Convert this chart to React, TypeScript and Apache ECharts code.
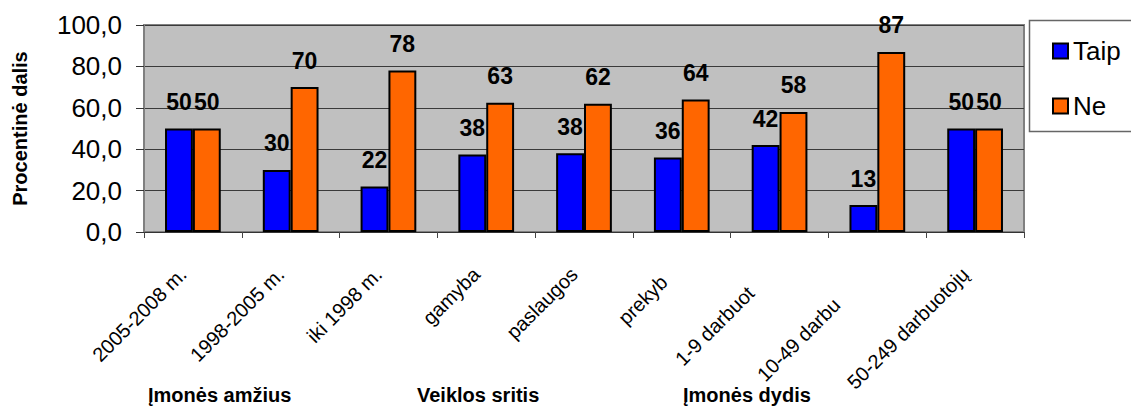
import React, { useEffect, useRef } from "react";
import * as echarts from "echarts";

const categories = [
  "2005-2008 m.",
  "1998-2005 m.",
  "iki 1998 m.",
  "gamyba",
  "paslaugos",
  "prekyba",
  "1-9 darbuotojų",
  "10-49 darbuotojų",
  "50-249 darbuotojų",
];
// visible (non-clipped) part of each category label
const visibleChars = [12, 12, 11, 6, 9, 6, 11, 11, 17];
const taip = [50, 30, 22, 37.5, 38, 36, 42, 13, 50];
const ne = [50, 70, 78, 62.5, 62, 64, 58, 87, 50];
const seriesNames = ["Taip", "Ne"];
const yTicks = { min: 0, max: 100, interval: 20 };
const groups = ["Įmonės amžius", "Veiklos sritis", "Įmonės dydis"];
const groupLeft = [148, 417, 683];

const FONT = 'Arial, "Liberation Sans", sans-serif';

export default function App() {
  const ref = useRef<HTMLDivElement>(null);
  useEffect(() => {
    if (!ref.current) return;
    const chart = echarts.init(ref.current, null, { renderer: "svg" });
    const labelStyle = {
      show: true,
      position: "top" as const,
      distance: 15,
      fontFamily: FONT,
      fontSize: 23,
      fontWeight: "bold" as const,
      color: "#000",
      formatter: (p: any) => String(Math.round(p.value)),
    };
    chart.setOption({
      animation: false,
      backgroundColor: "#fff",
      textStyle: { fontFamily: FONT },
      grid: {
        left: 144,
        top: 25,
        right: 107,
        bottom: 180,
        show: true,
        backgroundColor: "#c0c0c0",
        borderColor: "#808080",
        borderWidth: 2,
      },
      legend: {
        orient: "vertical",
        left: 1047,
        top: 32,
        itemWidth: 15,
        itemHeight: 15,
        itemGap: 27,
        icon: "rect",
        data: seriesNames,
        textStyle: { fontFamily: FONT, fontSize: 26, color: "#000", lineHeight: 28 },
      },
      xAxis: {
        type: "category",
        data: categories,
        axisLine: { show: true, lineStyle: { color: "#333", width: 1 } },
        axisTick: { show: true, length: 6, lineStyle: { color: "#444" } },
        axisLabel: {
          rotate: 45,
          margin: 29,
          interval: 0,
          padding: [0, 14, 0, 0],
          fontFamily: FONT,
          fontSize: 20,
          color: "#000",
          formatter: (v: string, i: number) => {
            const n = visibleChars[i];
            const a = v.slice(0, n);
            const b = v.slice(n);
            return b ? `{v|${a}}{h|${b}}` : `{v|${a}}`;
          },
          rich: {
            v: { fontFamily: FONT, fontSize: 20, color: "#000" },
            h: { fontFamily: FONT, fontSize: 20, color: "rgba(0,0,0,0)" },
          },
        },
      },
      yAxis: {
        type: "value",
        min: yTicks.min,
        max: yTicks.max,
        interval: yTicks.interval,
        name: "Procentinė dalis",
        nameLocation: "middle",
        nameRotate: 90,
        nameGap: 114,
        nameTextStyle: { fontFamily: FONT, fontSize: 20, fontWeight: "bold", color: "#000" },
        axisLine: { show: true, lineStyle: { color: "#808080", width: 2 } },
        axisTick: { show: true, length: 8, lineStyle: { color: "#333" } },
        axisLabel: {
          margin: 22,
          fontFamily: FONT,
          fontSize: 26,
          color: "#000",
          formatter: (v: number) => v.toFixed(1).replace(".", ","),
        },
        splitLine: { show: true, lineStyle: { color: "#3a3a3a", width: 1 } },
      },
      series: [
        {
          name: seriesNames[0],
          type: "bar",
          data: taip,
          barGap: "0%",
          barCategoryGap: "43%",
          itemStyle: { color: "#0000ff", borderColor: "#000", borderWidth: 2 },
          label: labelStyle,
        },
        {
          name: seriesNames[1],
          type: "bar",
          data: ne,
          barGap: "0%",
          barCategoryGap: "43%",
          itemStyle: { color: "#ff6600", borderColor: "#000", borderWidth: 2 },
          label: labelStyle,
        },
      ],
      graphic: [
        {
          type: "rect",
          left: 1027,
          top: 18,
          shape: { width: 120, height: 111 },
          style: { fill: "none", stroke: "#666", lineWidth: 1.5 },
          z: 100,
        },
        ...groups.map((g, i) => ({
          type: "text",
          left: groupLeft[i],
          top: 385,
          style: { text: g, fontFamily: FONT, fontSize: 20, fontWeight: "bold", fill: "#000" },
        })),
      ],
    });
    return () => chart.dispose();
  }, []);
  return <div ref={ref} style={{ width: 1131, height: 412, position: "absolute", left: 0, top: 0 }} />;
}
